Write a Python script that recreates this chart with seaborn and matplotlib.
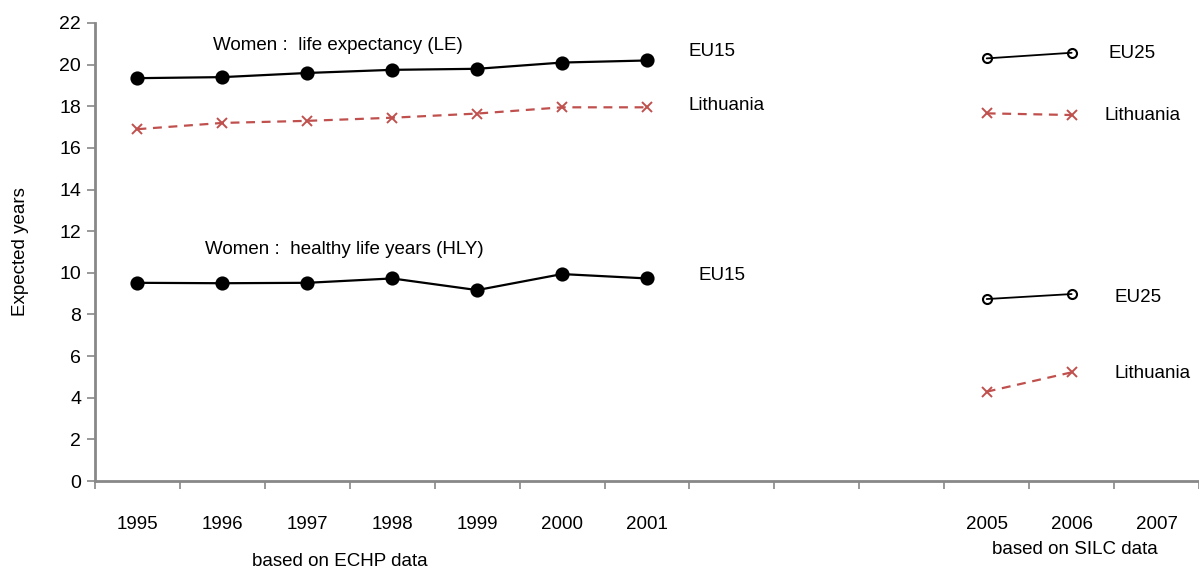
import matplotlib
matplotlib.use("Agg")
import matplotlib.pyplot as plt
import seaborn as sns
import numpy as np

# ---- data ----
years_echp = [1995, 1996, 1997, 1998, 1999, 2000, 2001]
years_silc = [2005, 2006]
all_years = list(range(1995, 2008))
tick_labels = ["1995", "1996", "1997", "1998", "1999", "2000", "2001", "", "", "",
               "2005", "2006", "2007"]

le_eu15 = [19.35, 19.4, 19.6, 19.75, 19.8, 20.1, 20.2]
le_lt_echp = [16.9, 17.2, 17.3, 17.45, 17.65, 17.95, 17.95]
hly_eu15 = [9.52, 9.5, 9.52, 9.73, 9.17, 9.94, 9.73]

le_eu25 = [20.3, 20.57]
le_lt_silc = [17.66, 17.58]
hly_eu25 = [8.74, 8.98]
hly_lt_silc = [4.29, 5.22]

sns.set_theme(style="white")
plt.rcParams['font.family'] = ['Liberation Sans Narrow', 'Liberation Sans', 'DejaVu Sans']
plt.rcParams['text.color'] = 'black'
plt.rcParams['axes.labelcolor'] = 'black'
plt.rcParams['xtick.color'] = 'black'
plt.rcParams['ytick.color'] = 'black'

fig = plt.figure(figsize=(11.99, 5.70), dpi=100)
ax = fig.add_axes([95/1199, 89/570, 1 - 95/1199, 458/570])

black = "#000000"
red = "#C0504D"

def draw(x, y, color, marker, ls, ms, mfc, mew=1.2, lw=1.6):
    sns.lineplot(x=x, y=y, ax=ax, color=color, linestyle=ls, linewidth=lw,
                 marker=marker, markersize=ms, markerfacecolor=mfc,
                 markeredgecolor=color, markeredgewidth=mew)

draw(years_echp, le_eu15, black, 'o', '-', 9, black)
draw(years_echp, le_lt_echp, red, 'x', (0, (4, 3)), 7, red, 1.4)
draw(years_echp, hly_eu15, black, 'o', '-', 9, black)
draw(years_silc, le_eu25, black, 'o', '-', 6.5, 'none', 1.5, 1.3)
draw(years_silc, le_lt_silc, red, 'x', (0, (4, 3)), 7, red, 1.4)
draw(years_silc, hly_eu25, black, 'o', '-', 6.5, 'none', 1.5, 1.3)
draw(years_silc, hly_lt_silc, red, 'x', (0, (4, 3)), 7, red, 1.4)

ax.set_ylim(0, 22)
ax.set_xlim(1994.5, 1994.5 + (1199 - 95) / 86.0)
ax.set_yticks(np.arange(0, 23, 2))
ax.set_xticks(all_years)
ax.set_xticklabels(tick_labels)
ax.set_xticks(np.arange(1994.5, 2008, 1), minor=True)

fs = 13.5
ax.tick_params(axis='x', which='major', length=0, pad=25, labelsize=fs, colors='black')
ax.tick_params(axis='x', which='minor', length=6, width=1.2, color='#888888', direction='out', bottom=True)
ax.tick_params(axis='y', which='major', length=6, width=1.2, color='#888888', direction='out', left=True,
               labelsize=fs + 0.5, pad=4, labelcolor='black')

for s in ['top', 'right']:
    ax.spines[s].set_visible(False)
for s in ['left', 'bottom']:
    ax.spines[s].set_color('#888888')
    ax.spines[s].set_linewidth(2)

ax.set_ylabel("Expected years", fontsize=fs, labelpad=22, color='black')
ax.grid(False)

def px(xp, yp, s, ha='left'):
    fig.text(xp / 1199, 1 - yp / 570, s, fontsize=fs, ha=ha, va='center', color='black')

px(213, 46, "Women :  life expectancy (LE)")
px(205, 250, "Women :  healthy life years (HLY)")
px(688, 52, "EU15")
px(688, 106, "Lithuania")
px(698, 276, "EU15")
px(1108, 54, "EU25")
px(1104, 116, "Lithuania")
px(1115, 297, "EU25")
px(1115, 374, "Lithuania")
px(340, 562, "based on ECHP data", ha='center')
px(1075, 549, "based on SILC data", ha='center')

fig.savefig("out.png", dpi=100)
